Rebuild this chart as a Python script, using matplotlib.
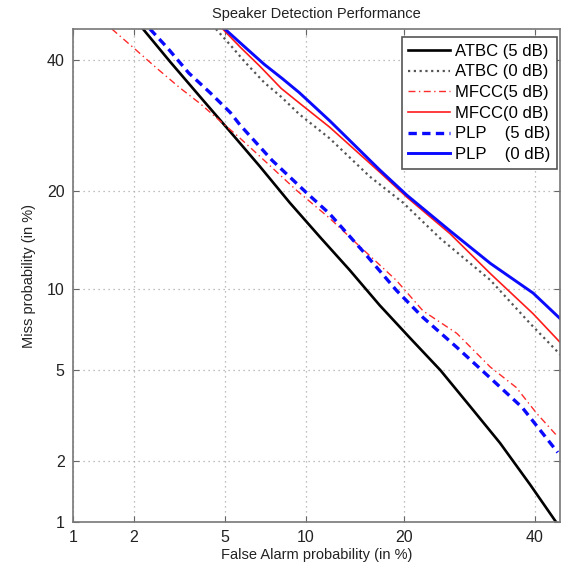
import numpy as np
import matplotlib
matplotlib.use("Agg")
import matplotlib.pyplot as plt
from statistics import NormalDist

plt.rcParams['font.family'] = ['Liberation Sans', 'DejaVu Sans']

# ---- data (False Alarm %, Miss %) ----
atbc5_fa   = [2.21, 2.94, 3.96, 5.25, 6.83, 8.79, 11.2, 13.9, 17.1, 20.8, 24.9, 29.3, 34.1, 39.2, 43.7]
atbc5_miss = [45.5, 39.7, 33.8, 28.3, 23.3, 18.6, 14.7, 11.6, 8.8, 6.67, 5.0, 3.54, 2.43, 1.54, 1.0]

atbc0_fa   = [4.6, 5.25, 6.0, 7.1, 8.2, 9.5, 12.0, 16.0, 19.9, 24.9, 32.5, 39.2, 44.5]
atbc0_miss = [45.5, 42.7, 39.7, 36.2, 33.8, 31.0, 27.3, 21.9, 18.6, 14.6, 10.75, 7.55, 5.75]

mfcc5_fa   = [1.57, 2.02, 2.56, 3.24, 3.96, 4.9, 5.6, 6.83, 9.3, 12.0, 14.6, 19.1, 22.5, 27.3, 32.5, 36.8, 40.3, 44.0]
mfcc5_miss = [45.5, 42.0, 38.6, 35.3, 32.7, 29.6, 27.7, 24.7, 20.1, 16.8, 14.1, 10.7, 8.4, 6.95, 5.15, 4.25, 3.3, 2.6]

mfcc0_fa   = [4.9, 5.75, 6.83, 8.2, 9.5, 12.0, 17.1, 20.4, 26.3, 32.5, 39.7, 44.5]
mfcc0_miss = [45.5, 42.3, 39.0, 35.2, 32.8, 29.0, 22.5, 19.25, 15.1, 11.3, 8.2, 6.4]

plp5_fa    = [2.38, 2.85, 3.54, 4.35, 5.25, 5.75, 7.6, 10.1, 12.0, 15.2, 19.1, 22.5, 27.3, 32.5, 37.8, 44.0]
plp5_miss  = [45.5, 42.2, 37.8, 34.5, 31.3, 29.3, 24.1, 19.75, 17.3, 13.4, 9.9, 7.95, 6.15, 4.65, 3.5, 2.2]

plp0_fa    = [5.0, 6.0, 7.1, 8.3, 9.5, 12.0, 17.1, 20.4, 26.3, 32.5, 39.7, 44.5]
plp0_miss  = [45.5, 42.3, 39.3, 36.8, 34.5, 30.0, 22.8, 19.5, 15.4, 12.2, 9.7, 7.85]

tick_vals = [1, 2, 5, 10, 20, 40]
tick_labels = ['1', '2', '5', '10', '20', '40']

_nd = NormalDist()
_ppf = np.vectorize(_nd.inv_cdf, otypes=[float])
_cdf = np.vectorize(_nd.cdf, otypes=[float])

def fwd(p):
    p = np.asarray(p, dtype=float)
    q = np.clip(p / 100.0, 1e-6, 1 - 1e-6)
    return _ppf(q)

def inv(z):
    z = np.asarray(z, dtype=float)
    return _cdf(z) * 100.0

W, H = 561, 565
fig = plt.figure(figsize=(W / 100, H / 100), dpi=100)
ax = fig.add_axes([73 / W, 1 - 522 / H, (560 - 73) / W, (522 - 29) / H])
ax.set_xscale('function', functions=(fwd, inv))
ax.set_yscale('function', functions=(fwd, inv))

ax.plot(atbc5_fa, atbc5_miss, color='black', lw=1.9, ls='-', label='ATBC (5 dB)')
ax.plot(atbc0_fa, atbc0_miss, color='#555555', lw=1.6, ls=(0, (1, 1.6)), label='ATBC (0 dB)')
ax.plot(mfcc5_fa, mfcc5_miss, color='#ff2a2a', lw=1.0, ls=(0, (5, 2.5, 1, 2.5)), label='MFCC(5 dB)')
ax.plot(mfcc0_fa, mfcc0_miss, color='#ff1a1a', lw=1.2, ls='-', label='MFCC(0 dB)')
ax.plot(plp5_fa, plp5_miss, color='#0a0aff', lw=2.4, ls=(0, (2.5, 1.6)), label='PLP    (5 dB)')
ax.plot(plp0_fa, plp0_miss, color='#0a0aff', lw=2.1, ls='-', label='PLP    (0 dB)')

ax.set_xlim(1, 44.4)
ax.set_ylim(1, 45.5)
ax.set_xticks(tick_vals)
ax.set_xticklabels(tick_labels)
ax.set_yticks(tick_vals)
ax.set_yticklabels(tick_labels)
ax.minorticks_off()
ax.tick_params(direction='in', length=4, top=True, right=True, labelsize=11.5,
               color='#666666', labelcolor='#222222', pad=6)
ax.grid(True, ls=(0, (1, 3)), color='#aaaaaa', lw=0.9)
for s in ax.spines.values():
    s.set_color('#777777')
    s.set_linewidth(1.2)

ax.set_title('Speaker Detection Performance', fontsize=10.5, pad=8, color='#222222')
ax.set_xlabel('False Alarm probability (in %)', fontsize=10.5, labelpad=2, color='#222222')
ax.set_ylabel('Miss probability (in %)', fontsize=10.5, labelpad=8, color='#222222')

leg = ax.legend(loc='upper right', bbox_to_anchor=(557 / W, 1 - 37 / H),
                bbox_transform=fig.transFigure, borderaxespad=0,
                fontsize=12, frameon=True, fancybox=False,
                edgecolor='#555555', framealpha=1,
                handlelength=2.5, handletextpad=0.3, labelspacing=0.34,
                borderpad=0.4)
leg.get_frame().set_linewidth(1.2)

fig.savefig('out.png', dpi=100)
